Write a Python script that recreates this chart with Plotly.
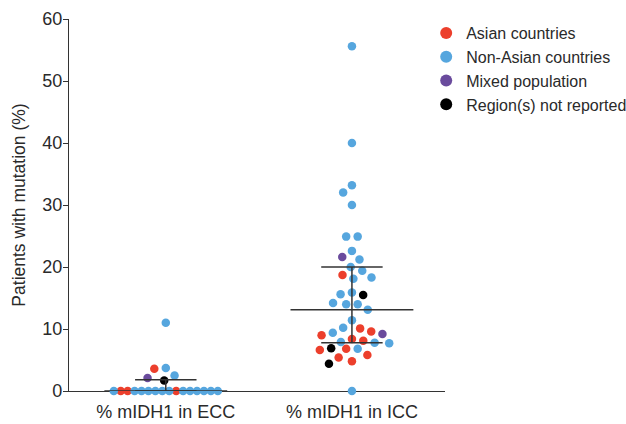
import math
import numpy as np
import plotly.graph_objects as go

# ---------------- data ----------------
categories = ["% mIDH1 in ECC", "% mIDH1 in ICC"]
region_names = ["Asian countries", "Non-Asian countries", "Mixed population", "Region(s) not reported"]
region_colors = ["#ec3f2c", "#56a6de", "#6a4b9d", "#000000"]

# A = Asian, N = Non-Asian, M = Mixed, R = not reported
ecc_values = [11.0, 3.7, 3.6, 2.5, 2.1, 1.7,
              0, 0, 0, 0, 0, 0, 0, 0, 0, 0, 0, 0, 0, 0, 0, 0]
ecc_region = ["N", "N", "A", "N", "M", "R",
              "N", "A", "A", "N", "N", "N", "N", "N", "N", "A", "N", "N", "N", "N", "N", "N"]

icc_values = [55.6, 40.0, 33.2, 32.0, 30.0, 24.9, 24.9, 22.6, 21.6, 21.2, 20.0, 19.4, 18.7,
              18.3, 18.1, 15.9, 15.6, 15.5, 14.2, 14.0, 14.0, 13.1, 11.4, 10.2, 10.1, 9.6,
              9.4, 9.2, 9.0, 8.4, 8.1, 7.9, 7.8, 7.7, 6.9, 6.8, 6.8, 6.6, 5.8, 5.4, 4.8, 4.4, 0.0]
icc_region = ["N", "N", "N", "N", "N", "N", "N", "N", "M", "N", "N", "N", "A",
              "N", "N", "N", "N", "R", "N", "N", "N", "N", "N", "N", "A", "A",
              "N", "M", "A", "A", "A", "N", "N", "N", "R", "A", "N", "A", "A", "A", "A", "R", "N"]

region_codes = ["A", "N", "M", "R"]

# ---------------- layout geometry ----------------
W, H = 626, 424
ML, MR, MT, MB = 69, 181, 19, 33
XR = [-0.52, 1.5]
YR = [0, 60]
PX_PER_X = (W - ML - MR) / (XR[1] - XR[0])
PX_PER_Y = (H - MT - MB) / (YR[1] - YR[0])


def swarm(values, d=11.5, tie_half=52.0):
    """Simple beeswarm layout in pixel space; returns x offsets in data units."""
    n = len(values)
    off = [0.0] * n
    placed = []
    groups = {}
    for i, v in enumerate(values):
        groups.setdefault(v, []).append(i)
    order = sorted(range(n), key=lambda i: -values[i])
    done = set()
    for i in order:
        if i in done:
            continue
        v = values[i]
        y = v * PX_PER_Y
        members = groups[v]
        if len(members) >= 2:
            k = len(members)
            s = min(d, 2 * tie_half / (k - 1))
            for j, m in enumerate(members):
                x = (j - (k - 1) / 2) * s
                off[m] = x
                placed.append((x, y))
                done.add(m)
            continue
        cands = [0.0]
        for px, py in placed:
            dy = abs(py - y)
            if dy < d:
                dx = math.sqrt(d * d - dy * dy)
                cands += [px - dx, px + dx]
        cands.sort(key=lambda c: (round(abs(c), 6), c))
        for c in cands:
            if all((c - px) ** 2 + (y - py) ** 2 >= d * d - 1e-6 for px, py in placed):
                off[i] = c
                break
        placed.append((off[i], y))
        done.add(i)
    return [o / PX_PER_X for o in off]


groups = [(ecc_values, ecc_region), (icc_values, icc_region)]

fig = go.Figure()

# points
xs = {c: [] for c in region_codes}
ys = {c: [] for c in region_codes}
for gi, (vals, regs) in enumerate(groups):
    offs = swarm(vals)
    for v, r, o in zip(vals, regs, offs):
        xs[r].append(gi + o)
        ys[r].append(v)

for code, name, color in zip(region_codes, region_names, region_colors):
    fig.add_trace(go.Scatter(
        x=xs[code], y=ys[code], mode="markers", name=name,
        marker=dict(size=8.5, color=color, line=dict(width=0)),
        cliponaxis=False, hoverinfo="y",
    ))

# median with interquartile range
lx, ly = [], []
for gi, (vals, _) in enumerate(groups):
    q1, med, q3 = np.percentile(vals, [25, 50, 75], method="weibull")
    lx += [gi - 0.33, gi + 0.33, None]
    ly += [med, med, None]
    for q in (q1, q3):
        lx += [gi - 0.165, gi + 0.165, None]
        ly += [q, q, None]
    lx += [gi, gi, None]
    ly += [q1, q3, None]

fig.add_trace(go.Scatter(
    x=lx, y=ly, mode="lines", line=dict(color="#333333", width=1.5),
    showlegend=False, hoverinfo="skip", cliponaxis=False,
))

font_family = "Liberation Sans, Arial, Helvetica, sans-serif"
fig.update_layout(
    width=W, height=H,
    margin=dict(l=ML, r=MR, t=MT, b=MB, pad=0, autoexpand=False),
    paper_bgcolor="white", plot_bgcolor="white",
    font=dict(family=font_family, color="#2a2a2a", size=16),
    showlegend=True,
    legend=dict(x=0.95, y=1.008, xanchor="left", yanchor="top",
                font=dict(size=16, color="#2a2a2a"),
                bgcolor="rgba(0,0,0,0)", itemsizing="constant"),
    xaxis=dict(range=XR, showgrid=False, zeroline=False, showline=True,
               linecolor="#333333", linewidth=1.2, ticks="",
               tickvals=[0, 1], ticktext=categories, automargin=False,
               ticklabelstandoff=4,
               tickfont=dict(size=18), layer="below traces"),
    yaxis=dict(range=YR, showgrid=False, zeroline=False, showline=True,
               linecolor="#333333", linewidth=1.2, ticks="outside",
               ticklen=5, tickwidth=1.2, tickcolor="#333333", dtick=10,
               ticklabelstandoff=-3,
               tickfont=dict(size=18), layer="below traces", automargin=False,
               title=dict(text="Patients with mutation (%)", font=dict(size=17.5), standoff=12)),
)

fig.write_html(
    "out.html",
    config={"displayModeBar": False},
    post_script="document.body.style.margin='0';document.body.style.overflow='hidden';",
)
